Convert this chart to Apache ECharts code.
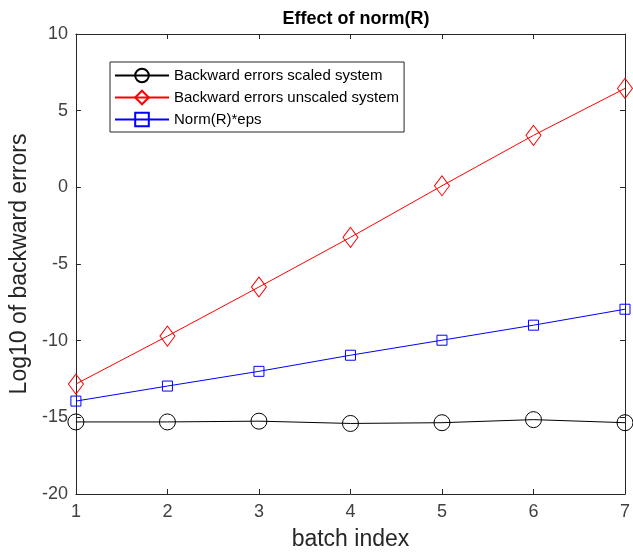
<!DOCTYPE html>
<html>
<head>
<meta charset="utf-8">
<script src="https://cdn.jsdelivr.net/npm/echarts@6/dist/echarts.min.js"></script>
<style>html,body{margin:0;padding:0;background:#fff;}#c{width:633px;height:556px;}</style>
</head>
<body>
<div id="c"></div>
<script>
var batchIndex = [1, 2, 3, 4, 5, 6, 7];
var scaledErrors = [-15.3, -15.3, -15.25, -15.4, -15.35, -15.15, -15.35];
var unscaledErrors = [-12.83, -9.7, -6.5, -3.26, 0.1, 3.39, 6.45];
var normEps = [-13.94, -12.96, -12.0, -10.95, -9.97, -8.99, -7.95];
var seriesNames = ['Backward errors scaled system', 'Backward errors unscaled system', 'Norm(R)*eps'];
var yTicks = [-20, -15, -10, -5, 0, 5, 10];

function pairs(vals) { return batchIndex.map(function (x, i) { return [x, vals[i]]; }); }

var FONT = 'Liberation Sans, Arial, sans-serif';
var axisColor = '#262626';
var labelColor = '#404040';

var chart = echarts.init(document.getElementById('c'), null, {renderer: 'canvas'});
chart.setOption({
  animation: false,
  backgroundColor: '#fff',
  title: {
    text: 'Effect of norm(R)', left: 351, textAlign: 'center', top: 5,
    textStyle: {fontFamily: FONT, fontSize: 18, fontWeight: 'bold', color: '#000'}
  },
  legend: {
    orient: 'vertical', left: 110, top: 62,
    data: seriesNames,
    itemWidth: 54, itemHeight: 17, itemGap: 5,
    padding: [5, 5, 4, 4],
    backgroundColor: '#fff', borderColor: '#262626', borderWidth: 1,
    textStyle: {fontFamily: FONT, fontSize: 15, color: '#000', lineHeight: 17}
  },
  grid: {left: 73, right: 3, top: 34, bottom: 62},
  xAxis: [{
    type: 'value', min: 1, max: 7, interval: 1, position: 'bottom',
    name: 'batch index', nameLocation: 'middle', nameGap: 34,
    nameTextStyle: {fontFamily: FONT, fontSize: 23, color: axisColor},
    axisLine: {show: true, onZero: false, lineStyle: {color: axisColor, width: 1}},
    axisTick: {show: true, inside: true, length: 5, lineStyle: {color: axisColor}},
    axisLabel: {fontFamily: FONT, fontSize: 18, color: labelColor, margin: 9},
    splitLine: {show: false}
  }, {
    type: 'value', min: 1, max: 7, interval: 1, position: 'top',
    axisLine: {show: true, onZero: false, lineStyle: {color: axisColor, width: 1}},
    axisTick: {show: true, inside: true, length: 5, lineStyle: {color: axisColor}},
    axisLabel: {show: false}, splitLine: {show: false}
  }],
  yAxis: [{
    type: 'value', min: yTicks[0], max: yTicks[yTicks.length - 1], interval: 5, position: 'left',
    name: 'Log10 of backward errors', nameLocation: 'middle', nameGap: 38,
    nameTextStyle: {fontFamily: FONT, fontSize: 23, color: axisColor},
    axisLine: {show: true, onZero: false, lineStyle: {color: axisColor, width: 1}},
    axisTick: {show: true, inside: true, length: 5, lineStyle: {color: axisColor}},
    axisLabel: {fontFamily: FONT, fontSize: 18, color: labelColor, margin: 8},
    splitLine: {show: false}
  }, {
    type: 'value', min: yTicks[0], max: yTicks[yTicks.length - 1], interval: 5, position: 'right',
    axisLine: {show: true, onZero: false, lineStyle: {color: axisColor, width: 1}},
    axisTick: {show: true, inside: true, length: 5, lineStyle: {color: axisColor}},
    axisLabel: {show: false}, splitLine: {show: false}
  }],
  series: [{
    name: seriesNames[0], type: 'line', data: pairs(scaledErrors),
    symbol: 'circle', symbolSize: 16,
    lineStyle: {color: '#000', width: 1},
    itemStyle: {color: 'rgba(0,0,0,0)', borderColor: '#000', borderWidth: 1},
    z: 3
  }, {
    name: seriesNames[1], type: 'line', data: pairs(unscaledErrors),
    symbol: 'diamond', symbolSize: [15, 20],
    lineStyle: {color: '#ff0000', width: 1},
    itemStyle: {color: 'rgba(0,0,0,0)', borderColor: '#ff0000', borderWidth: 1},
    z: 3
  }, {
    name: seriesNames[2], type: 'line', data: pairs(normEps),
    symbol: 'rect', symbolSize: 10,
    lineStyle: {color: '#0000ff', width: 1},
    itemStyle: {color: 'rgba(0,0,0,0)', borderColor: '#0000ff', borderWidth: 1},
    z: 3
  }]
});
</script>
</body>
</html>
